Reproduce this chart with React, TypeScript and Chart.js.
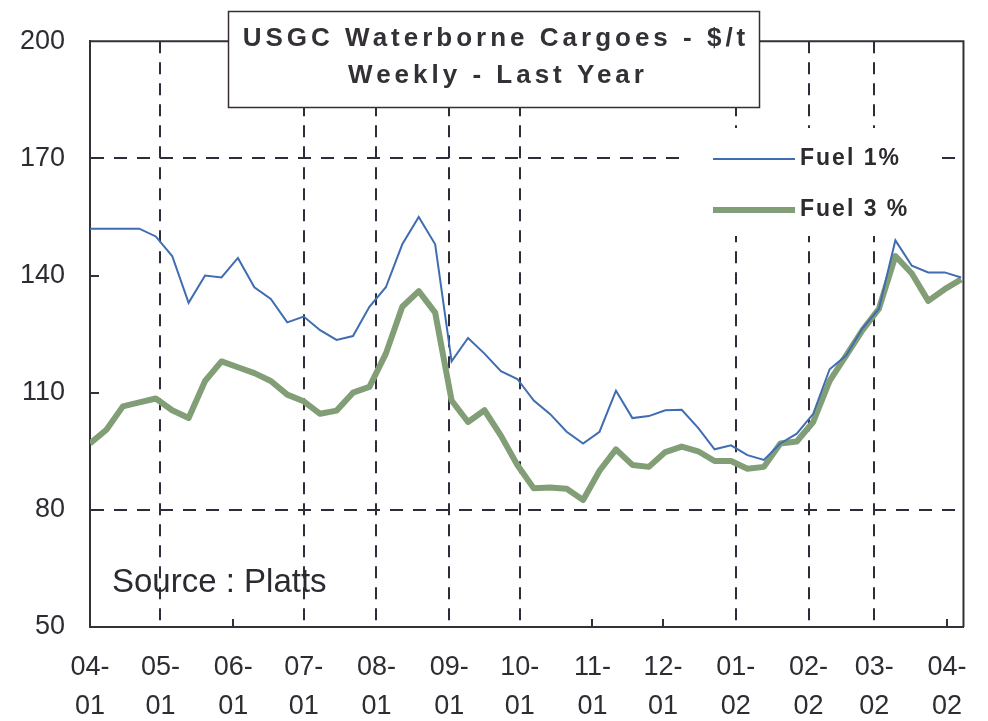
import React, { useEffect, useRef } from "react";
import { Chart, registerables } from "chart.js";

Chart.register(...registerables);

// Weekly prices, $/t (one value per week starting 04-01)
const fuel1 = [
  152, 152, 152, 152, 150, 145, 133, 140, 139.5, 144.5,
  137, 134, 128, 129.5, 126, 123.5, 124.5, 132, 137, 148,
  155, 148, 118, 124, 120, 115.5, 113.5, 108, 104.5, 100,
  97, 100, 110.5, 103.5, 104, 105.5, 105.6, 101, 95.5, 96.5,
  94, 92.8, 97, 99.5, 104.6, 116, 119.5, 126.5, 131.5, 149,
  142.5, 140.8, 140.8, 139.5,
];
const fuel3 = [
  97, 100.5, 106.5, 107.5, 108.5, 105.5, 103.5, 113, 118, 116.5,
  115, 113, 109.5, 107.8, 104.6, 105.4, 110, 111.5, 120, 132,
  136, 130.5, 108, 102.5, 105.5, 99, 91.5, 85.5, 85.7, 85.4,
  82.5, 90, 95.5, 91.5, 91, 94.8, 96.2, 95, 92.5, 92.5,
  90.5, 91, 97, 97.5, 102.5, 113, 119.5, 126, 131.5, 145,
  140.5, 133.5, 136.5, 139,
];
const seriesLabels = ["Fuel 1%", "Fuel 3 %"];
const weekStepDays = 7;

// Month ticks: days since 1 April 2001
const monthTickDays = [0, 30, 61, 91, 122, 153, 183, 214, 244, 275, 306, 334, 365];
const monthTopLabels = ["04-", "05-", "06-", "07-", "08-", "09-", "10-", "11-", "12-", "01-", "02-", "03-", "04-"];
const monthBottomLabels = ["01", "01", "01", "01", "01", "01", "01", "01", "01", "02", "02", "02", "02"];
const gridMonthDays = [30, 91, 122, 153, 183, 275, 306, 334];
const xMaxDays = 372;

const yMin = 50;
const yMax = 200;
const yStep = 30;
const yGridValues = [170, 80];

const titleLines = ["USGC Waterborne Cargoes - $/t", "Weekly - Last Year"];
const sourceText = "Source : Platts";

const FONT = "'Liberation Sans', Arial, sans-serif";
const DARK = "#352f38";
const GRID = "#2f2c3a";
const BLUE = "#3f6db0";
const GREEN = "#829e76";

const decorations = {
  id: "decorations",
  afterDraw(chart: any) {
    const { ctx, chartArea: a, scales } = chart;
    const xs = scales.x;
    const ys = scales.y;
    ctx.save();

    // inner tick marks where no grid line is drawn
    ctx.strokeStyle = DARK;
    ctx.lineWidth = 2;
    ctx.setLineDash([]);
    monthTickDays.forEach((d) => {
      if (d === 0 || gridMonthDays.includes(d)) return;
      const px = Math.round(xs.getPixelForValue(d));
      ctx.beginPath();
      ctx.moveTo(px, a.bottom);
      ctx.lineTo(px, a.bottom - 8);
      ctx.stroke();
    });
    for (let v = yMin + yStep; v < yMax; v += yStep) {
      if (yGridValues.includes(v)) continue;
      const py = Math.round(ys.getPixelForValue(v));
      ctx.beginPath();
      ctx.moveTo(a.left, py);
      ctx.lineTo(a.left + 9, py);
      ctx.stroke();
    }

    // top and right frame
    ctx.beginPath();
    ctx.moveTo(a.left, a.top);
    ctx.lineTo(a.right, a.top);
    ctx.lineTo(a.right, a.bottom);
    ctx.stroke();

    // legend
    ctx.fillStyle = "#ffffff";
    ctx.fillRect(686, 128, 249, 108);
    const ds = chart.data.datasets;
    const legendY = [159, 210];
    ds.forEach((d: any, i: number) => {
      ctx.strokeStyle = d.borderColor;
      ctx.lineWidth = d.borderWidth;
      ctx.lineCap = "butt";
      ctx.beginPath();
      ctx.moveTo(713, legendY[i]);
      ctx.lineTo(795, legendY[i]);
      ctx.stroke();
      ctx.fillStyle = "#2e2a30";
      ctx.font = `bold 23px ${FONT}`;
      (ctx as any).letterSpacing = "2px";
      ctx.textAlign = "left";
      ctx.textBaseline = "middle";
      ctx.fillText(d.label, 800, legendY[i]);
    });

    // title box
    ctx.fillStyle = "#ffffff";
    ctx.fillRect(228, 11, 532, 97);
    ctx.strokeStyle = "#3a2c36";
    ctx.lineWidth = 1.5;
    ctx.strokeRect(228.5, 11.5, 531, 96);
    ctx.fillStyle = "#333036";
    ctx.font = `bold 26px ${FONT}`;
    (ctx as any).letterSpacing = "4px";
    ctx.textAlign = "center";
    ctx.textBaseline = "middle";
    ctx.fillText(titleLines[0], 496, 39);
    ctx.fillText(titleLines[1], 498, 76);

    // source note
    (ctx as any).letterSpacing = "0px";
    ctx.font = `33px ${FONT}`;
    ctx.fillStyle = "#2c2a30";
    ctx.textAlign = "left";
    ctx.textBaseline = "alphabetic";
    ctx.fillText(sourceText, 112, 592);

    ctx.restore();
  },
};

export default function App() {
  const ref = useRef<HTMLCanvasElement>(null);

  useEffect(() => {
    const points1 = fuel1.map((v, i) => ({ x: i * weekStepDays, y: v }));
    const points3 = fuel3.map((v, i) => ({ x: i * weekStepDays, y: v }));
    const chart = new Chart(ref.current as HTMLCanvasElement, {
      type: "line",
      data: {
        datasets: [
          {
            label: seriesLabels[0],
            data: points1,
            borderColor: BLUE,
            borderWidth: 2,
            pointRadius: 0,
            tension: 0,
            fill: false,
          },
          {
            label: seriesLabels[1],
            data: points3,
            borderColor: GREEN,
            borderWidth: 6,
            pointRadius: 0,
            tension: 0,
            fill: false,
            borderJoinStyle: "round",
          },
        ],
      },
      options: {
        animation: false,
        responsive: false,
        devicePixelRatio: 1,
        layout: { padding: { top: 40, right: 24, left: 0, bottom: 0 } },
        plugins: {
          legend: { display: false },
          title: { display: false },
          tooltip: { enabled: false },
        },
        scales: {
          x: {
            type: "linear",
            min: 0,
            max: xMaxDays,
            afterBuildTicks: (s: any) => {
              s.ticks = monthTickDays.map((v) => ({ value: v }));
            },
            afterFit: (s: any) => {
              s.height = 94;
            },
            ticks: {
              autoSkip: false,
              maxRotation: 0,
              minRotation: 0,
              padding: 21,
              color: "#2e2c32",
              font: { family: FONT, size: 27, lineHeight: 1.45 },
              callback: (v: any) => {
                const i = monthTickDays.indexOf(Number(v));
                return i >= 0 ? [monthTopLabels[i], monthBottomLabels[i]] : "";
              },
            },
            grid: {
              drawTicks: false,
              lineWidth: 2,
              color: (c: any) =>
                c.tick && gridMonthDays.includes(c.tick.value) ? GRID : "rgba(0,0,0,0)",
            },
            border: { display: true, color: DARK, width: 2, dash: [12, 9] },
          },
          y: {
            min: yMin,
            max: yMax,
            afterFit: (s: any) => {
              s.width = 90;
            },
            ticks: {
              stepSize: yStep,
              padding: 25,
              color: "#2e2c32",
              font: { family: FONT, size: 27 },
            },
            grid: {
              drawTicks: false,
              lineWidth: 2,
              color: (c: any) =>
                c.tick && yGridValues.includes(c.tick.value) ? GRID : "rgba(0,0,0,0)",
            },
            border: { display: true, color: DARK, width: 2, dash: [13, 10] },
          },
        },
      },
      plugins: [decorations],
    } as any);
    return () => chart.destroy();
  }, []);

  return (
    <div style={{ position: "fixed", left: 0, top: 0, width: 988, height: 721, background: "#ffffff" }}>
      <canvas ref={ref} width={988} height={721} style={{ display: "block", width: 988, height: 721 }} />
    </div>
  );
}
